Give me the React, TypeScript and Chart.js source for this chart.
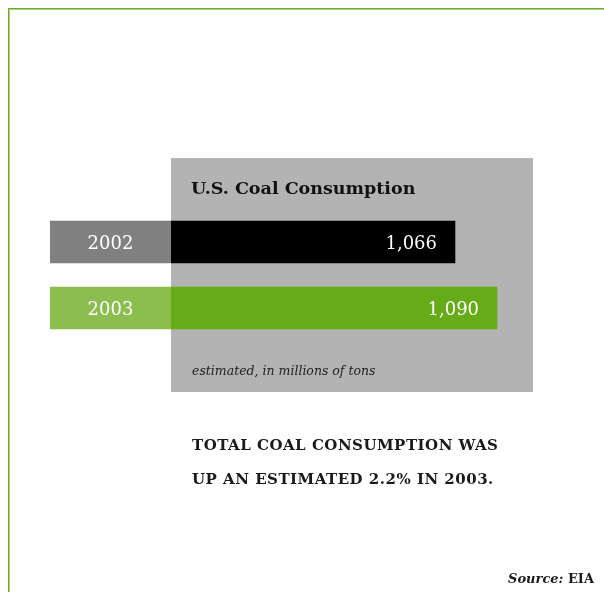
import React, { useEffect, useRef } from "react";
import { Chart, registerables } from "chart.js";

Chart.register(...registerables);

const categories = ["2002", "2003"];
const values = [1066, 1090];
const valueLabels = ["1,066", "1,090"];
const title = "U.S. Coal Consumption";
const unitNote = "estimated, in millions of tons";
const headline = ["TOTAL COAL CONSUMPTION WAS", "UP AN ESTIMATED 2.2% IN 2003."];
const sourceLabel = "Source:";
const sourceName = "EIA";

const AXIS_MIN = 835;
const AXIS_MAX = 1110.5;

const lightColors = ["#808080", "#8bbe4f"];
const darkColors = ["#000000", "#66ab18"];

const SERIF = '"DejaVu Serif", serif';

export default function App() {
  const ref = useRef<HTMLCanvasElement | null>(null);

  useEffect(() => {
    const canvas = ref.current;
    if (!canvas) return;

    const boxOffset = 121; // box starts this far right of chart area left

    const decor = {
      id: "decor",
      beforeDraw(chart: any) {
        const c = chart.ctx;
        const a = chart.chartArea;
        c.save();
        c.fillStyle = "#ffffff";
        c.fillRect(0, 0, chart.width, chart.height);
        // green frame
        c.fillStyle = "#6aae27";
        c.fillRect(8, 8, chart.width - 8, 1);
        c.fillRect(8, 8, 1, chart.height - 8);
        c.fillStyle = "#a9d37e";
        c.fillRect(9, 9, chart.width - 9, 1);
        c.fillRect(9, 9, 1, chart.height - 9);
        // grey box
        c.fillStyle = "#b3b3b3";
        c.fillRect(a.left + boxOffset, a.top - 51, a.right - a.left - boxOffset, a.bottom - a.top + 102);
        c.restore();
      },
      afterDatasetsDraw(chart: any) {
        const c = chart.ctx;
        const a = chart.chartArea;
        const boxLeft = a.left + boxOffset;
        const meta = chart.getDatasetMeta(0);
        c.save();
        // title
        c.fillStyle = "#111111";
        c.font = `bold 17.5px ${SERIF}`;
        c.textAlign = "left";
        c.textBaseline = "alphabetic";
        c.fillText(title, boxLeft + 20, a.top - 15);
        // bar labels
        c.font = `18px ${SERIF}`;
        c.fillStyle = "#ffffff";
        meta.data.forEach((el: any, i: number) => {
          const y = el.y + 7;
          c.textAlign = "center";
          c.fillText(categories[i], (a.left + boxLeft) / 2, y);
          c.textAlign = "right";
          c.fillText(valueLabels[i], el.x - 18, y);
        });
        // note
        c.fillStyle = "#222222";
        c.font = `italic 12.5px ${SERIF}`;
        c.textAlign = "left";
        c.fillText(unitNote, boxLeft + 21, a.bottom + 34);
        // headline
        c.fillStyle = "#1a1a1a";
        c.font = `bold 15px ${SERIF}`;
        (c as any).letterSpacing = "0.5px";
        c.fillText(headline[0], boxLeft + 21, a.bottom + 109);
        c.fillText(headline[1], boxLeft + 21, a.bottom + 143);
        (c as any).letterSpacing = "0px";
        // source
        c.font = `bold 13px ${SERIF}`;
        c.textAlign = "right";
        const rightX = 594;
        const nameW = c.measureText(" " + sourceName).width;
        c.fillText(" " + sourceName, rightX, 583);
        c.font = `italic bold 13px ${SERIF}`;
        c.fillText(sourceLabel, rightX - nameW, 583);
        c.restore();
      },
    };

    const makeFill = (i: number) => (ctx: any) => {
      const chart = ctx.chart;
      const a = chart.chartArea;
      if (!a) return darkColors[i];
      const boxLeft = a.left + boxOffset;
      const g = chart.ctx.createLinearGradient(0, 0, chart.width, 0);
      const t = boxLeft / chart.width;
      g.addColorStop(0, lightColors[i]);
      g.addColorStop(t, lightColors[i]);
      g.addColorStop(t, darkColors[i]);
      g.addColorStop(1, darkColors[i]);
      return g;
    };

    const chart = new Chart(canvas, {
      type: "bar",
      data: {
        labels: categories,
        datasets: [
          {
            data: values,
            base: AXIS_MIN,
            backgroundColor: (ctx: any) => makeFill(ctx.dataIndex)(ctx),
            borderWidth: 0,
            barThickness: 42,
          } as any,
        ],
      },
      plugins: [decor],
      options: {
        indexAxis: "y",
        responsive: false,
        animation: false,
        events: [],
        layout: { padding: { left: 50, right: 71, top: 209, bottom: 251 } },
        plugins: {
          legend: { display: false },
          title: { display: false },
          tooltip: { enabled: false },
        },
        scales: {
          x: { display: false, min: AXIS_MIN, max: AXIS_MAX },
          y: { display: false },
        },
      },
    });
    return () => chart.destroy();
  }, []);

  return (
    <div style={{ position: "absolute", left: 0, top: 0, width: 604, height: 592 }}>
      <canvas ref={ref} width={604} height={592} style={{ width: 604, height: 592, display: "block" }} />
    </div>
  );
}
